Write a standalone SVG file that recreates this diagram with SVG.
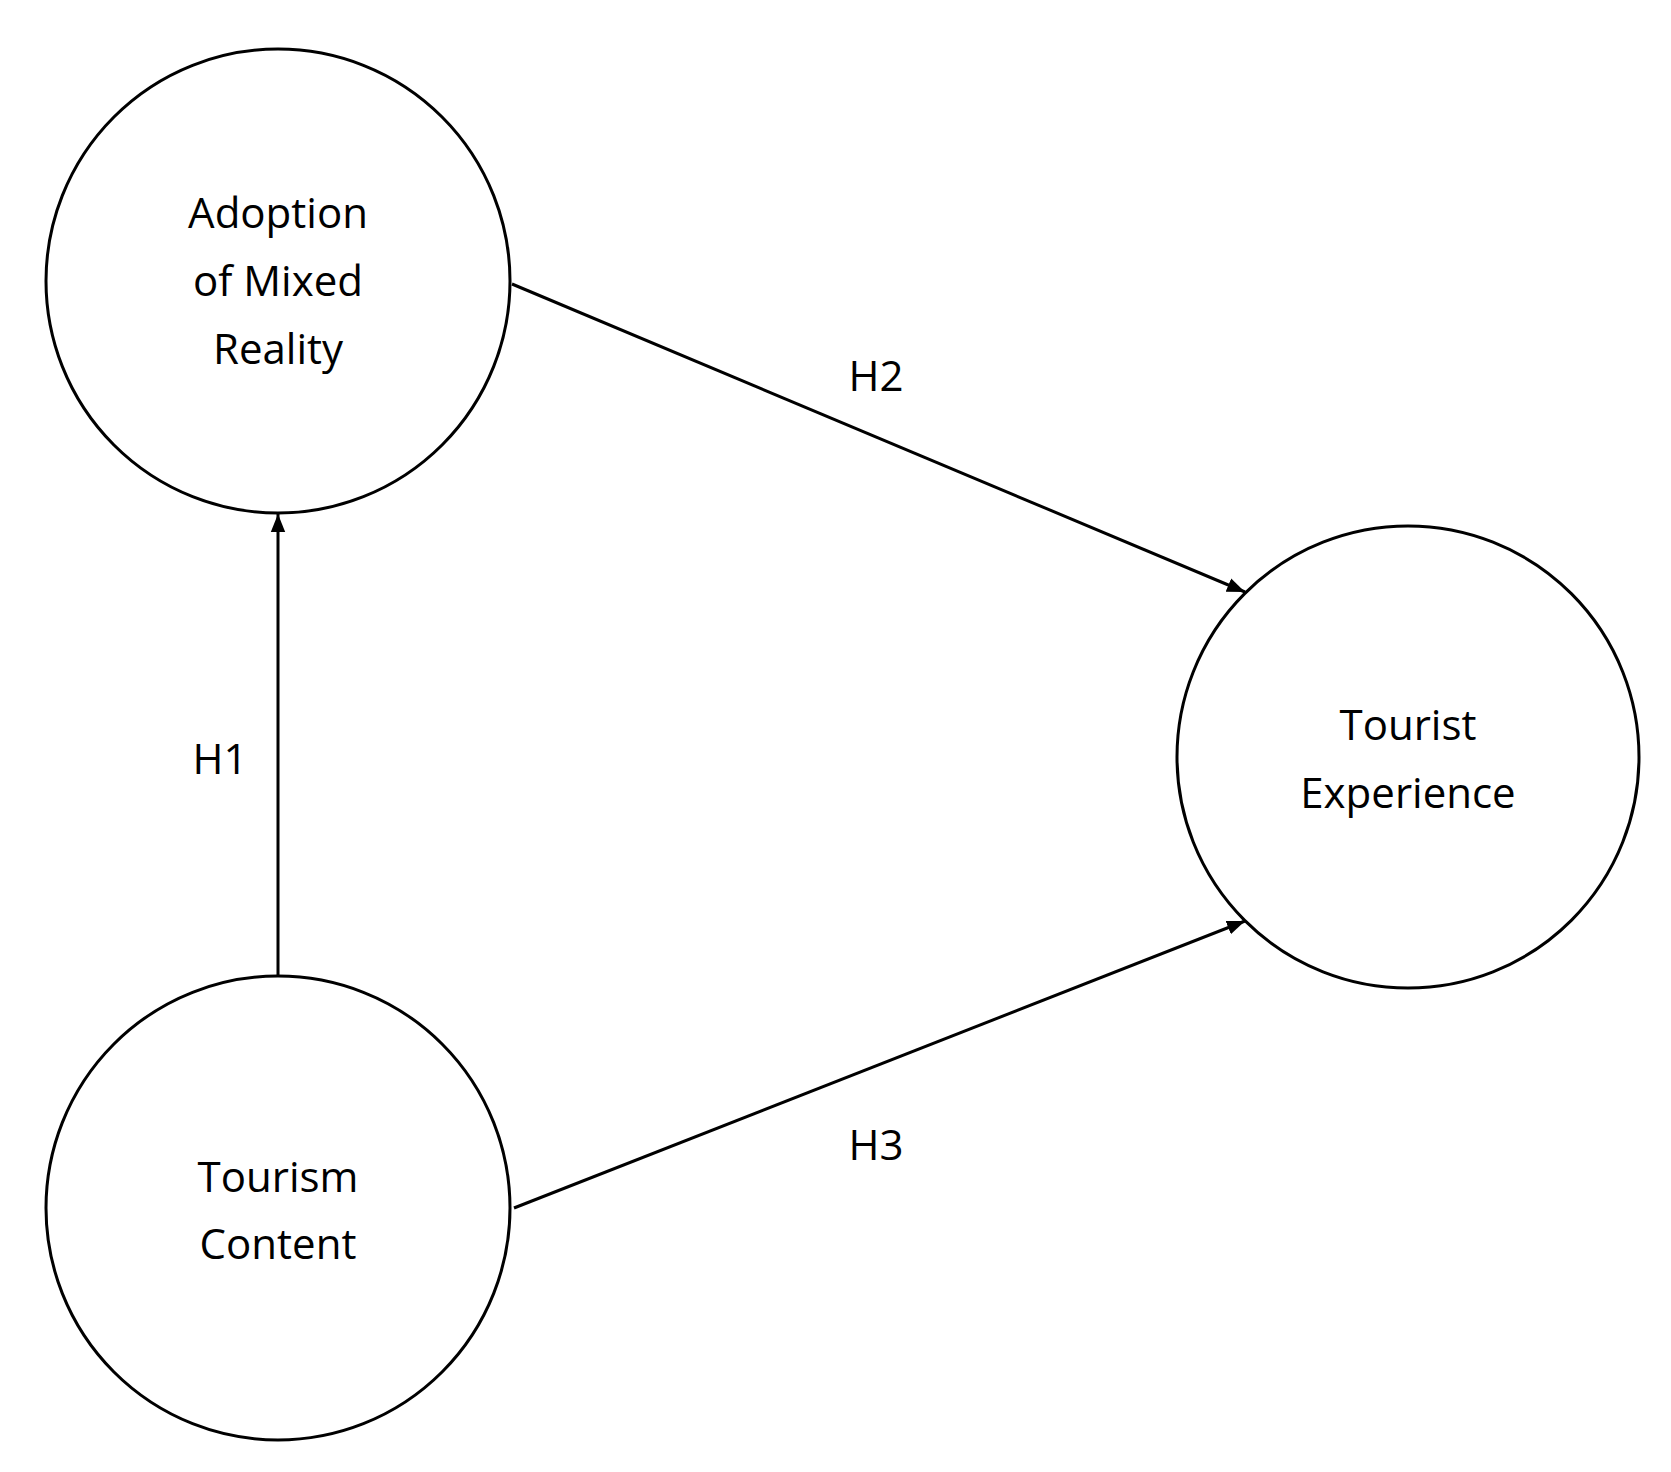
<svg xmlns="http://www.w3.org/2000/svg" width="1671" height="1472" viewBox="0 0 1671 1472">
<style>
.n{fill:#fff;stroke:#000;stroke-width:3}
.t{font-family:"Open Sans","Noto Sans",sans-serif;font-size:42px;fill:#000;text-anchor:middle}
.e{stroke:#000;stroke-width:3;fill:none;marker-end:url(#a)}
</style>
<defs><marker id="a" viewBox="0 0 10 10" refX="10" refY="5" markerWidth="6" markerHeight="6" orient="auto" markerUnits="strokeWidth"><path d="M0,1 L10,5 L0,9 z" fill="#000"/></marker></defs>
<rect width="1671" height="1472" fill="#fff"/>
<g id="connectors">
<line class="e" x1="278" y1="977" x2="278" y2="514"/>
<line class="e" x1="512" y1="284" x2="1245" y2="592"/>
<line class="e" x1="514" y1="1208" x2="1245" y2="921"/>
<text class="t" x="220" y="774">H1</text>
<text class="t" x="876" y="391">H2</text>
<text class="t" x="876" y="1160">H3</text>
</g>
<g id="adoption"><circle class="n" cx="278" cy="281" r="232"/>
<text class="t" x="278" y="228">Adoption</text><text class="t" x="278" y="296">of Mixed</text><text class="t" x="278" y="364">Reality</text></g>
<g id="tourism"><circle class="n" cx="278" cy="1208" r="232"/>
<text class="t" x="278" y="1192">Tourism</text><text class="t" x="278" y="1259">Content</text></g>
<g id="experience"><circle class="n" cx="1408" cy="757" r="231"/>
<text class="t" x="1408" y="740">Tourist</text><text class="t" x="1408" y="808">Experience</text></g>
</svg>
